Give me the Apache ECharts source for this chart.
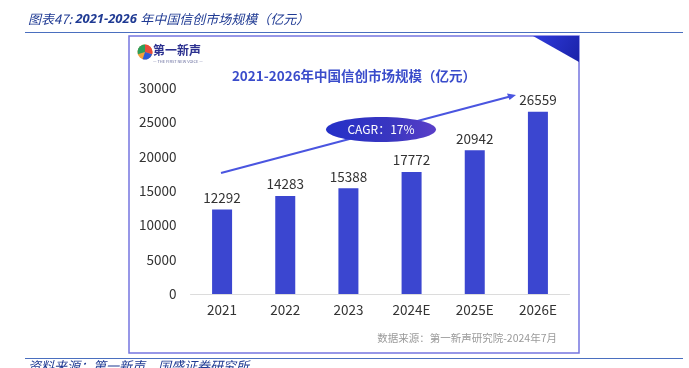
<!DOCTYPE html>
<html>
<head>
<meta charset="utf-8">
<script src="https://cdn.jsdelivr.net/npm/echarts@6/dist/echarts.min.js"></script>
<style>
html,body{margin:0;padding:0;background:#fff;}
#c{width:689px;height:368px;}
</style>
</head>
<body>
<div id="c"></div>
<script>
const categories = ['2021', '2022', '2023', '2024E', '2025E', '2026E'];
const marketSize = [12292, 14283, 15388, 17772, 20942, 26559];
const yTicks = [0, 5000, 10000, 15000, 20000, 25000, 30000];

const FONT = '"Noto Sans CJK SC", "Open Sans", sans-serif';
const chart = echarts.init(document.getElementById('c'));

chart.setOption({
  backgroundColor: '#ffffff',
  animation: false,
  grid: { left: 190.5, right: 119.5, top: 88, bottom: 74 },
  xAxis: {
    type: 'category',
    data: categories,
    axisLine: { lineStyle: { color: '#dcdcdc', width: 1 } },
    axisTick: { show: false },
    axisLabel: { color: '#333', fontSize: 13.5, fontFamily: FONT, margin: 9 }
  },
  yAxis: {
    type: 'value',
    min: yTicks[0],
    max: yTicks[yTicks.length - 1],
    interval: yTicks[1] - yTicks[0],
    splitLine: { show: false },
    axisLine: { show: false },
    axisTick: { show: false },
    axisLabel: { color: '#333', fontSize: 13.5, fontFamily: FONT, margin: 14, formatter: v => String(v) }
  },
  series: [{
    type: 'bar',
    data: marketSize,
    barWidth: 20,
    itemStyle: { color: '#3b46d0' },
    label: {
      show: true, position: 'top', distance: 5,
      color: '#333', fontSize: 13.5, fontFamily: FONT
    },
    z: 2
  }],
  graphic: [
    // header
    { type: 'text', left: 28, top: 13, style: {
      text: '{a|图表47:} {b|2021-2026} {a|年中国信创市场规模（亿元）}',
      rich: {
        a: { fontSize: 13, fontStyle: 'italic', fill: '#1f3a93', fontFamily: FONT },
        b: { fontSize: 13, fontStyle: 'italic', fontWeight: 'bold', fill: '#1f3a93', fontFamily: '"Open Sans", sans-serif' }
      } } },
    { type: 'line', shape: { x1: 25, y1: 32.5, x2: 683, y2: 32.5 }, style: { stroke: '#4a6fbf', lineWidth: 1.2 } },
    { type: 'line', shape: { x1: 25, y1: 358.5, x2: 683, y2: 358.5 }, style: { stroke: '#4a6fbf', lineWidth: 1.2 } },
    { type: 'text', left: 28, top: 360, style: {
      text: '资料来源：第一新声，国盛证券研究所', fontSize: 13, fontStyle: 'italic', fill: '#1f3a93', fontFamily: FONT } },
    // frame
    { type: 'rect', shape: { x: 129, y: 36, width: 450, height: 317 },
      style: { fill: 'none', stroke: '#7676e0', lineWidth: 1.5 }, z: 0 },
    // corner triangle
    { type: 'polygon', shape: { points: [[533, 36], [579, 36], [579, 62]] },
      style: { fill: { type: 'linear', x: 0, y: 0, x2: 1, y2: 1, colorStops: [{ offset: 0, color: '#2f3bdc' }, { offset: 1, color: '#1a22a8' }] } } },
    // logo
    { type: 'circle', shape: { cx: 145, cy: 52, r: 7.5 }, style: { fill: '#f2a23a' } },
    { type: 'sector', shape: { cx: 145, cy: 52, r: 7.5, startAngle: Math.PI * 0.9, endAngle: Math.PI * 1.5 }, style: { fill: '#2c9f5a' } },
    { type: 'sector', shape: { cx: 145, cy: 52, r: 7.5, startAngle: Math.PI * 1.5, endAngle: Math.PI * 2.1 }, style: { fill: '#e84b3c' } },
    { type: 'sector', shape: { cx: 145, cy: 52, r: 7.5, startAngle: Math.PI * 0.1, endAngle: Math.PI * 0.6 }, style: { fill: '#2a5bd8' } },
    { type: 'text', left: 153, top: 44, style: { text: '第一新声', fontSize: 12, fontWeight: 'bold', fill: '#2a2f8f', fontFamily: FONT } },
    { type: 'text', left: 153, top: 59.5, style: { text: '— THE FIRST NEW VOICE —', fontSize: 4, fill: '#6a6f9f', fontFamily: FONT } },
    // title
    { type: 'text', x: 354, y: 76, style: {
      text: '2021-2026年中国信创市场规模（亿元）', fontSize: 13.5, fontWeight: 'bold', fill: '#3a4ccb',
      fontFamily: FONT, align: 'center', verticalAlign: 'middle' } },
    // arrow
    { type: 'line', shape: { x1: 221, y1: 173, x2: 510, y2: 96.5 }, style: { stroke: '#4a55e0', lineWidth: 2 }, z: 5 },
    { type: 'polygon', shape: { points: [[516, 95], [507, 93.5], [509.5, 100]] }, style: { fill: '#4a55e0' }, z: 5 },
    { type: 'ellipse', shape: { cx: 381, cy: 129.5, rx: 55, ry: 12.5 },
      style: { fill: { type: 'linear', x: 0, y: 0, x2: 1, y2: 0, colorStops: [{ offset: 0, color: '#2430c8' }, { offset: 0.6, color: '#3a36c0' }, { offset: 1, color: '#5a3fc8' }] } }, z: 6 },
    { type: 'text', x: 381, y: 129.5, style: { text: 'CAGR：17%', fontSize: 12, fill: '#ffffff', fontFamily: FONT, align: 'center', verticalAlign: 'middle' }, z: 7 },
    // source note
    { type: 'text', right: 689 - 557, top: 333, style: { text: '数据来源：第一新声研究院-2024年7月', fontSize: 10.5, fill: '#9a9a9a', fontFamily: FONT } }
  ]
});
</script>
</body>
</html>
